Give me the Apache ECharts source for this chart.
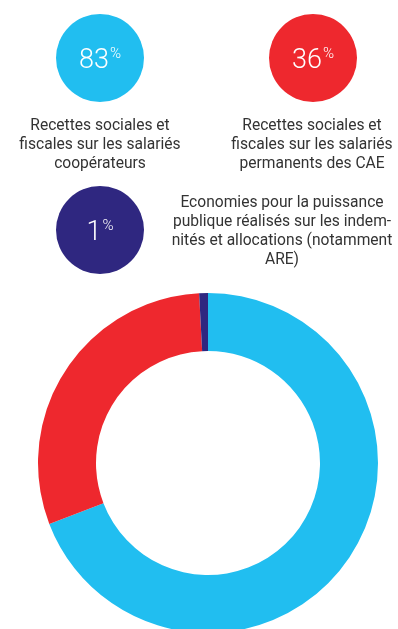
<!DOCTYPE html>
<html>
<head>
<meta charset="utf-8">
<style>
    html, body { margin: 0; padding: 0; background: #fff; }
    #chart { width: 398px; height: 629px; }
</style>
<script src="https://cdn.jsdelivr.net/npm/echarts@6/dist/echarts.min.js"></script>
</head>
<body>
<div id="chart"></div>
<script>
    // valeurs
    var names = ["coopérateurs", "permanents", "économies"];
    var values = [83, 36, 1];
    var colors = ["#21BEF0", "#EE282E", "#2F2780"];
    var labels = [
        "Recettes sociales et\nfiscales sur les salariés\ncoopérateurs",
        "Recettes sociales et\nfiscales sur les salariés\npermanents des CAE",
        "Economies pour la puissance\npublique réalisés sur les indem-\nnités et allocations (notamment\nARE)"
    ];

    var chart = echarts.init(document.getElementById("chart"));

    // petits disques en haut (un par valeur)
    var bubbleCenters = [[100, 58], [313, 58], [100, 230]];
    var labelPos = [[100, 117], [312, 117], [282, 194]];

    var series = [];
    values.forEach(function (v, i) {
        series.push({
            type: "pie",
            silent: true,
            center: bubbleCenters[i],
            radius: [0, 44],
            label: {
                show: true,
                position: "center",
                formatter: "{n|" + v + "}{p|%}",
                rich: {
                    n: { fontSize: 27, fontWeight: 300, color: "#fff", fontFamily: "Roboto", padding: [7, 0, 0, 0] },
                    p: { fontSize: 15, fontWeight: 300, color: "#fff", fontFamily: "Roboto", padding: [0, 0, 8, 1] }
                }
            },
            labelLine: { show: false },
            itemStyle: { color: colors[i] },
            data: [{ name: names[i], value: v }]
        });
    });

    // anneau principal
    series.push({
        type: "pie",
        silent: true,
        center: [208, 463],
        radius: [112, 170],
        startAngle: 90,
        clockwise: true,
        label: { show: false },
        labelLine: { show: false },
        data: values.map(function (v, i) {
            return { name: names[i], value: v, itemStyle: { color: colors[i] } };
        })
    });

    var option = {
        animation: false,
        graphic: labels.map(function (t, i) {
            return {
                type: "text",
                x: labelPos[i][0],
                y: labelPos[i][1],
                style: {
                    text: t,
                    textAlign: "center",
                    textVerticalAlign: "top",
                    font: "15.6px Roboto",
                    lineHeight: 19,
                    fill: "#333"
                }
            };
        }),
        series: series
    };

    chart.setOption(option);
</script>
</body>
</html>
